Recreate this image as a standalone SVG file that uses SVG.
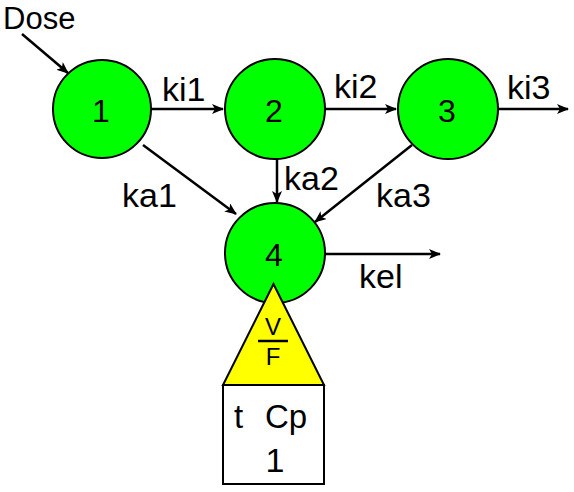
<svg xmlns="http://www.w3.org/2000/svg" width="574" height="492" viewBox="0 0 574 492">
<style>
text{font-family:"Liberation Sans",Arial,sans-serif;fill:#000}
.lbl{font-size:34px}
.num{font-size:32px;text-anchor:middle}
.comp{fill:#00ff00;stroke:#000;stroke-width:2}
.edge{stroke:#000;stroke-width:2.5;fill:none;marker-end:url(#ah)}
</style>
<defs>
<marker id="ah" viewBox="0 0 12 10" refX="11" refY="5" markerWidth="12" markerHeight="10" markerUnits="userSpaceOnUse" orient="auto">
<path d="M0,0 L12,5 L0,10 L3,5 z" fill="#000"/>
</marker>
</defs>
<g id="connectors">
<line class="edge" x1="22" y1="34" x2="68" y2="73"/>
<line class="edge" x1="151" y1="109" x2="223" y2="109"/>
<line class="edge" x1="325" y1="109" x2="396" y2="109"/>
<line class="edge" x1="498" y1="109" x2="568" y2="109"/>
<line class="edge" x1="277" y1="158" x2="277" y2="202"/>
<line class="edge" x1="143" y1="145" x2="236" y2="214"/>
<line class="edge" x1="412" y1="145" x2="315" y2="222"/>
<line class="edge" x1="325" y1="254" x2="440" y2="254"/>
</g>
<g id="labels">
<text x="3" y="29" style="font-size:31px">Dose</text>
<text class="lbl" x="162" y="101">ki1</text>
<text class="lbl" x="334" y="98">ki2</text>
<text class="lbl" x="507" y="99">ki3</text>
<text class="lbl" x="122" y="207">ka1</text>
<text class="lbl" x="284" y="190">ka2</text>
<text class="lbl" x="376" y="207">ka3</text>
<text class="lbl" x="359" y="288">kel</text>
</g>
<g id="node1"><circle class="comp" cx="102" cy="109" r="49"/><text class="num" x="101" y="122">1</text></g>
<g id="node2"><circle class="comp" cx="275" cy="109" r="50"/><text class="num" x="274" y="122">2</text></g>
<g id="node3"><circle class="comp" cx="448" cy="109" r="50"/><text class="num" x="447" y="122">3</text></g>
<g id="node4"><circle class="comp" cx="275" cy="253" r="50"/><text class="num" x="274" y="266">4</text></g>
<g id="vf">
<polygon points="273.5,284 223,385 324,385" fill="#ffff00" stroke="#000" stroke-width="2"/>
<text x="273" y="335" style="font-size:24px;text-anchor:middle">V</text>
<line x1="258" y1="341" x2="288" y2="341" stroke="#000" stroke-width="2.5"/>
<text x="273" y="365" style="font-size:24px;text-anchor:middle">F</text>
</g>
<g id="table">
<rect x="223" y="385" width="101" height="99" fill="#fff" stroke="#000" stroke-width="2"/>
<text x="234" y="428" style="font-size:33px">t</text>
<text x="265" y="428" style="font-size:33px">Cp</text>
<text x="275" y="472" style="font-size:34px;text-anchor:middle">1</text>
</g>
</svg>
